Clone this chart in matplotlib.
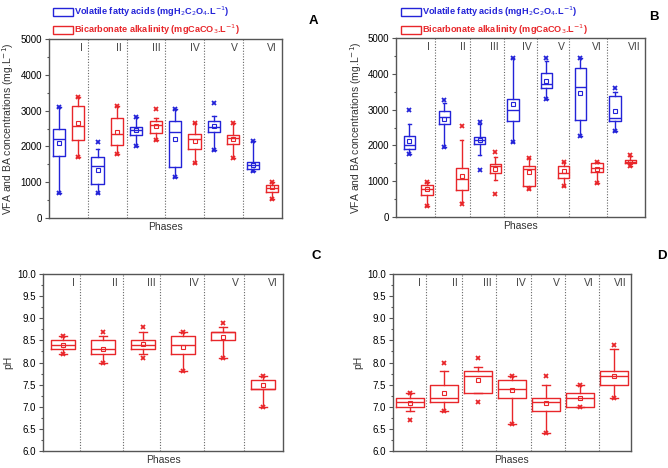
import numpy as np
import matplotlib.pyplot as plt
from matplotlib.patches import Patch
from matplotlib.ticker import MultipleLocator

plt.rcParams['font.family'] = ['Liberation Sans', 'DejaVu Sans']

# ===== Data =====
phases_a = ["I", "II", "III", "IV", "V", "VI"]
phases_b = ["I", "II", "III", "IV", "V", "VI", "VII"]

# Panel A - VFA (mgH2C2O4/L)
a_vfa_min = [700, 710, 2010, 1160, 1900, 1310]
a_vfa_lo = [700, 710, 2010, 1160, 1900, 1310]
a_vfa_q1 = [1740, 940, 2330, 1440, 2390, 1360]
a_vfa_med = [2200, 1450, 2460, 2410, 2540, 1490]
a_vfa_mean = [2090, 1330, 2460, 2200, 2560, 1490]
a_vfa_q3 = [2480, 1710, 2550, 2710, 2720, 1560]
a_vfa_hi = [3100, 1920, 2820, 3040, 2840, 2160]
a_vfa_max = [3100, 2120, 2820, 3040, 3200, 2160]

# Panel A - bicarbonate alkalinity (mgCaCO3/L)
a_ba_min = [1700, 1790, 2180, 1530, 1680, 520]
a_ba_lo = [1700, 1790, 2180, 1530, 1680, 520]
a_ba_q1 = [2180, 2040, 2370, 1930, 2060, 740]
a_ba_med = [2580, 2340, 2590, 2200, 2240, 850]
a_ba_mean = [2650, 2390, 2580, 2160, 2220, 860]
a_ba_q3 = [3120, 2790, 2710, 2360, 2320, 910]
a_ba_hi = [3390, 3130, 2790, 2650, 2650, 1000]
a_ba_max = [3390, 3130, 3040, 2650, 2650, 1000]

# Panel B - VFA
b_vfa_min = [1770, 1960, 1320, 2100, 3300, 2250, 2390]
b_vfa_lo = [1770, 1960, 1720, 2100, 3300, 2250, 2390]
b_vfa_q1 = [1910, 2590, 2030, 2670, 3595, 2710, 2680]
b_vfa_med = [2020, 2780, 2140, 3000, 3715, 3640, 2760]
b_vfa_mean = [2120, 2750, 2140, 3160, 3810, 3455, 2950]
b_vfa_q3 = [2250, 2950, 2240, 3310, 4020, 4150, 3390]
b_vfa_hi = [2600, 3180, 2590, 4430, 4370, 4430, 3500]
b_vfa_max = [3000, 3260, 2660, 4430, 4450, 4430, 3595]

# Panel B - bicarbonate alkalinity
b_ba_min = [300, 350, 650, 780, 880, 960, 1430]
b_ba_lo = [300, 430, 1040, 780, 880, 960, 1430]
b_ba_q1 = [610, 760, 1230, 870, 1100, 1250, 1500]
b_ba_med = [790, 1050, 1430, 1330, 1240, 1380, 1540]
b_ba_mean = [770, 1150, 1350, 1250, 1280, 1350, 1550]
b_ba_q3 = [900, 1370, 1490, 1430, 1430, 1500, 1600]
b_ba_hi = [990, 2150, 1680, 1640, 1540, 1550, 1700]
b_ba_max = [990, 2540, 1820, 1640, 1540, 1550, 1740]

# Panel C - pH
c_min = [8.2, 8.0, 8.1, 7.8, 8.1, 7.0]
c_lo = [8.2, 8.0, 8.2, 7.8, 8.1, 7.0]
c_q1 = [8.3, 8.2, 8.3, 8.2, 8.5, 7.4]
c_med = [8.4, 8.3, 8.4, 8.4, 8.7, 7.4]
c_mean = [8.39, 8.31, 8.41, 8.36, 8.58, 7.49]
c_q3 = [8.5, 8.5, 8.5, 8.6, 8.7, 7.6]
c_hi = [8.6, 8.6, 8.7, 8.7, 8.8, 7.7]
c_max = [8.6, 8.7, 8.8, 8.7, 8.9, 7.7]

# Panel D - pH
d_min = [6.7, 6.9, 7.1, 6.6, 6.4, 7.0, 7.2]
d_lo = [6.9, 6.9, 7.3, 6.6, 6.4, 7.0, 7.2]
d_q1 = [7.0, 7.1, 7.3, 7.2, 6.9, 7.0, 7.5]
d_med = [7.1, 7.2, 7.7, 7.4, 7.1, 7.2, 7.7]
d_mean = [7.08, 7.3, 7.6, 7.39, 7.08, 7.2, 7.7]
d_q3 = [7.2, 7.5, 7.8, 7.6, 7.2, 7.3, 7.8]
d_hi = [7.3, 7.8, 7.9, 7.7, 7.5, 7.5, 8.3]
d_max = [7.3, 8.0, 8.1, 7.7, 7.7, 7.5, 8.4]

BLUE = '#2323d8'
RED = '#e8262a'
FRAME = '#555555'


def make_stats(vmin, lo, q1, med, mean, q3, hi, vmax):
    stats = []
    for i in range(len(med)):
        stats.append(dict(whislo=lo[i], q1=q1[i], med=med[i], mean=mean[i],
                          q3=q3[i], whishi=hi[i], fliers=[vmin[i], vmax[i]]))
    return stats


def draw_boxes(ax, stats, positions, color, width):
    ax.bxp(stats, positions=positions, widths=width, showmeans=True,
           showfliers=True, capwidths=width * 0.3, manage_ticks=False,
           boxprops=dict(color=color, lw=1.0),
           medianprops=dict(color=color, lw=1.0),
           whiskerprops=dict(color=color, lw=1.0),
           capprops=dict(color=color, lw=1.0),
           flierprops=dict(marker='x', markersize=3, markeredgecolor=color,
                           markeredgewidth=1.3),
           meanprops=dict(marker='s', markersize=3, markerfacecolor='none',
                          markeredgecolor=color, markeredgewidth=0.8))


def setup(ax, xmax, seps, labels, ylim, major, minor, ylabel, fmt):
    ax.set_xlim(0, xmax)
    ax.set_ylim(*ylim)
    for s in seps:
        ax.axvline(s, color='#666666', ls=(0, (1, 1.5)), lw=0.8, zorder=0)
    ends = list(seps) + [xmax]
    for lab, e in zip(labels, ends):
        ax.annotate(lab, xy=(e, 1), xycoords=('data', 'axes fraction'),
                    xytext=(-3.5, -3), textcoords='offset points',
                    ha='right', va='top', fontsize=7.5, color='#444444')
    ax.set_xticks([])
    ax.yaxis.set_major_locator(MultipleLocator(major))
    ax.yaxis.set_minor_locator(MultipleLocator(minor))
    ax.yaxis.set_major_formatter(fmt)
    ax.tick_params(axis='y', which='major', direction='out', length=3,
                   width=0.8, color=FRAME, labelsize=7, pad=2)
    ax.tick_params(axis='y', which='minor', direction='out', length=1.8,
                   width=0.8, color=FRAME)
    for sp in ax.spines.values():
        sp.set_color(FRAME)
        sp.set_linewidth(1.0)
    ax.set_xlabel('Phases', fontsize=7.5, labelpad=3, color='#333333')
    ax.set_ylabel(ylabel, fontsize=7.5, labelpad=3, color='#333333')


fig = plt.figure(figsize=(6.68, 4.68), dpi=100)
ax_a = fig.add_axes([0.0734, 0.534, 0.3486, 0.3827])
ax_b = fig.add_axes([0.593, 0.5363, 0.3726, 0.3825])
ax_c = fig.add_axes([0.0644, 0.0363, 0.3593, 0.3782])
ax_d = fig.add_axes([0.588, 0.0363, 0.3566, 0.3782])

conc_label = 'VFA and BA concentrations (mg.L$^{-1}$)'

# ----- Panel A -----
n_a = len(phases_a)
setup(ax_a, 2 * n_a, [2, 4, 6, 8, 10], phases_a, (0, 5000), 1000, 500,
      conc_label, '{x:.0f}')
draw_boxes(ax_a, make_stats(a_vfa_min, a_vfa_lo, a_vfa_q1, a_vfa_med, a_vfa_mean,
                            a_vfa_q3, a_vfa_hi, a_vfa_max),
           [2 * i + 0.5 for i in range(n_a)], BLUE, 0.63)
draw_boxes(ax_a, make_stats(a_ba_min, a_ba_lo, a_ba_q1, a_ba_med, a_ba_mean,
                            a_ba_q3, a_ba_hi, a_ba_max),
           [2 * i + 1.5 for i in range(n_a)], RED, 0.63)

# ----- Panel B -----
pos_b_vfa = [0.75, 2.72, 4.70, 6.56, 8.45, 10.36, 12.32]
pos_b_ba = [1.74, 3.69, 5.58, 7.46, 9.42, 11.29, 13.18]
setup(ax_b, 14, [2.17, 4.18, 6.05, 7.92, 9.74, 11.85], phases_b, (0, 5000),
      1000, 500, conc_label, '{x:.0f}')
draw_boxes(ax_b, make_stats(b_vfa_min, b_vfa_lo, b_vfa_q1, b_vfa_med, b_vfa_mean,
                            b_vfa_q3, b_vfa_hi, b_vfa_max),
           pos_b_vfa, BLUE, 0.65)
draw_boxes(ax_b, make_stats(b_ba_min, b_ba_lo, b_ba_q1, b_ba_med, b_ba_mean,
                            b_ba_q3, b_ba_hi, b_ba_max),
           pos_b_ba, RED, 0.65)

# ----- Panel C -----
setup(ax_c, 6, [0.92, 2.0, 2.93, 4.02, 5.02], phases_a, (6.0, 10.0), 0.5, 0.25,
      'pH', '{x:.1f}')
draw_boxes(ax_c, make_stats(c_min, c_lo, c_q1, c_med, c_mean, c_q3, c_hi, c_max),
           [i + 0.5 for i in range(len(c_med))], RED, 0.62)

# ----- Panel D -----
setup(ax_d, 7, [0.98, 2.04, 3.04, 4.05, 5.05, 6.05], phases_b, (6.0, 10.0),
      0.5, 0.25, 'pH', '{x:.1f}')
draw_boxes(ax_d, make_stats(d_min, d_lo, d_q1, d_med, d_mean, d_q3, d_hi, d_max),
           [i + 0.5 for i in range(len(d_med))], RED, 0.81)

# ----- Legends -----
handles = [Patch(facecolor='none', edgecolor=BLUE, lw=1.0),
           Patch(facecolor='none', edgecolor=RED, lw=1.0)]
leg_labels = ['Volatile fatty acids (mgH$_2$C$_2$O$_4$.L$^{-1}$)',
              'Bicarbonate alkalinity (mgCaCO$_3$.L$^{-1}$)']
for x0 in [47 / 668, 395 / 668]:
    fig.legend(handles, leg_labels, loc='upper left',
               bbox_to_anchor=(x0, 1 + 1 / 468), frameon=False,
               labelcolor=[BLUE, RED], prop=dict(weight='bold', size=6.6),
               handlelength=2.2, handleheight=0.9, handletextpad=0.1,
               labelspacing=0.45, borderpad=0.1)

# ----- Panel letters -----
for letter, x, y in [('A', 313, 21), ('B', 654, 17), ('C', 316, 256), ('D', 662, 256)]:
    fig.text(x / 668, 1 - y / 468, letter, fontsize=9.5, fontweight='bold',
             ha='center', va='center')

fig.savefig('out.png', dpi=100)
